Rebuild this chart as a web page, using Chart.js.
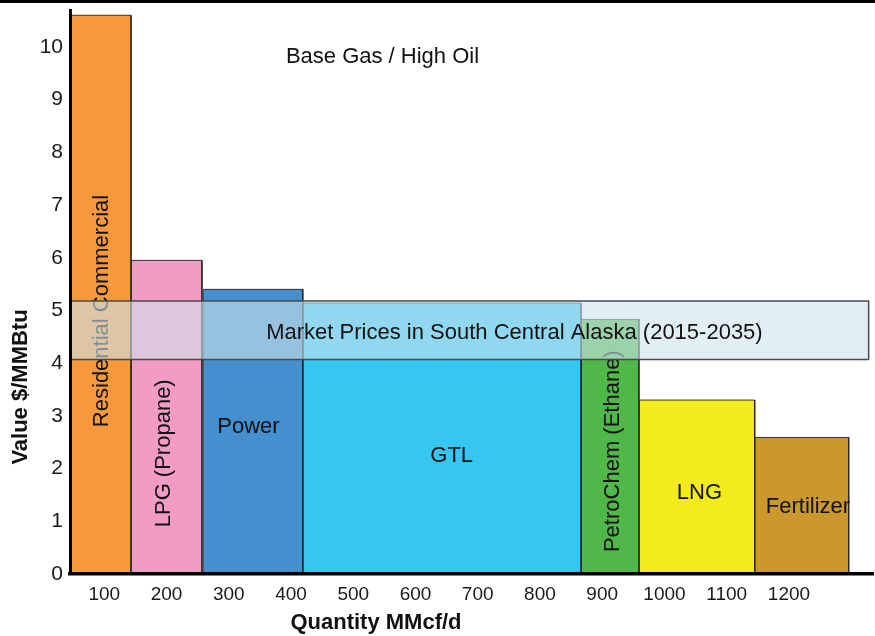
<!DOCTYPE html>
<html>
<head>
<meta charset="utf-8">
<title>Base Gas / High Oil</title>
<script src="https://cdn.jsdelivr.net/npm/chart.js@4.4.1/dist/chart.umd.min.js"></script>
<style>
  html, body { margin: 0; padding: 0; background: #ffffff; }
  #wrap { position: relative; width: 875px; height: 636px; }
</style>
</head>
<body>
<div id="wrap"><canvas id="chart" width="875" height="636"></canvas></div>
<script>
// Gas demand sectors: each block spans a quantity range (MMcf/d) at a netback value ($/MMBtu)
const sectors    = ['Residential Commercial', 'LPG (Propane)', 'Power', 'GTL', 'PetroChem (Ethane)', 'LNG', 'Fertilizer'];
const qtyStart   = [45, 143, 259, 419, 866, 959, 1145];
const qtyEnd     = [143, 257, 419, 866, 959, 1145, 1296];
const values     = [10.6, 5.95, 5.4, 5.14, 4.83, 3.3, 2.59];

// Market price band for South Central Alaska
const marketLabel = 'Market Prices in South Central Alaska (2015-2035)';
const marketLow   = 4.07;
const marketHigh  = 5.18;
const marketQty   = [47, 1328];

const chartTitle = 'Base Gas / High Oil';
const xTitle = 'Quantity MMcf/d';
const yTitle = 'Value $/MMBtu';
const xTicks = [100, 200, 300, 400, 500, 600, 700, 800, 900, 1000, 1100, 1200];
const yTicks = [0, 1, 2, 3, 4, 5, 6, 7, 8, 9, 10];

// Styling
const sectorColors = ['#F7993A', '#F29BC4', '#4490CE', '#36C6F2', '#4FB848', '#F3EB1B', '#CB982D'];
const FONT = '"Liberation Sans", Arial, Helvetica, sans-serif';
const TEXT = '#111111';

// Where each sector name sits (in axis units) and whether it runs vertically
const sectorLabelPos = [
  { x: 95.6,   y: 4.99, vertical: true },
  { x: 196,    y: 2.29, vertical: true },
  { x: 331.7,  y: 2.79, vertical: false },
  { x: 658.2,  y: 2.24, vertical: false },
  { x: 917.3,  y: 2.33, vertical: true },
  { x: 1056.2, y: 1.54, vertical: false },
  { x: 1230.5, y: 1.28, vertical: false }
];
const chartTitlePos  = { x: 547, y: 9.81 };
const marketLabelPos = { x: 759, y: 4.57 };

// Band outline is split: sides + top as one path, bottom edge as its own line
const bandBottom = {
  data: [{ x: marketQty[0], y: marketLow }, { x: marketQty[1], y: marketLow }],
  borderColor: '#4a4a4a', borderWidth: 1.5, pointRadius: 0, fill: false
};
const band = {
  data: [
    { x: marketQty[0], y: marketLow }, { x: marketQty[0], y: marketHigh },
    { x: marketQty[1], y: marketHigh }, { x: marketQty[1], y: marketLow }
  ],
  borderColor: '#4a4a4a', borderWidth: 1.5, pointRadius: 0,
  backgroundColor: 'rgba(205,228,236,0.6)',
  fill: { value: marketLow }
};

// One closed block per sector, filled down to zero
const blocks = sectors.map((name, i) => ({
  label: name,
  data: [
    { x: qtyStart[i], y: 0 }, { x: qtyStart[i], y: values[i] },
    { x: qtyEnd[i], y: values[i] }, { x: qtyEnd[i], y: 0 }
  ],
  backgroundColor: sectorColors[i],
  borderColor: 'rgba(35,35,35,0.9)',
  borderWidth: 1,
  pointRadius: 0,
  fill: 'origin'
}));

// Datasets are painted from the last index to the first, so the band goes on top
const datasets = [bandBottom, band, ...blocks];
const LAST_BLOCK_INDEX = 2;

function drawText(ctx, text, px, py, font, vertical) {
  ctx.save();
  ctx.font = font;
  ctx.fillStyle = TEXT;
  ctx.textAlign = 'center';
  ctx.textBaseline = 'middle';
  ctx.translate(px, py);
  if (vertical) ctx.rotate(-Math.PI / 2);
  ctx.fillText(text, 0, 0);
  ctx.restore();
}

const annotations = {
  id: 'annotations',
  beforeDraw(chart) {
    const ctx = chart.ctx;
    ctx.save();
    ctx.fillStyle = '#ffffff';
    ctx.fillRect(0, 0, chart.width, chart.height);
    ctx.restore();
  },
  afterDatasetDraw(chart, args) {
    // sector names go beneath the translucent price band
    if (args.index !== LAST_BLOCK_INDEX) return;
    const { x, y } = chart.scales;
    sectors.forEach((name, i) => {
      const p = sectorLabelPos[i];
      drawText(chart.ctx, name, x.getPixelForValue(p.x), y.getPixelForValue(p.y), '22px ' + FONT, p.vertical);
    });
  },
  afterDatasetsDraw(chart) {
    const ctx = chart.ctx;
    const { x, y } = chart.scales;
    drawText(ctx, marketLabel, x.getPixelForValue(marketLabelPos.x), y.getPixelForValue(marketLabelPos.y), '22px ' + FONT, false);
    drawText(ctx, chartTitle, x.getPixelForValue(chartTitlePos.x), y.getPixelForValue(chartTitlePos.y), '22px ' + FONT, false);
  },
  afterDraw(chart) {
    const ctx = chart.ctx;
    // axis titles
    drawText(ctx, yTitle, 21, 387, 'bold 22px ' + FONT, true);
    drawText(ctx, xTitle, 376, 623, 'bold 22px ' + FONT, false);
    // rule across the top edge
    ctx.save();
    ctx.fillStyle = '#000000';
    ctx.fillRect(0, 0, chart.width, 3);
    ctx.restore();
  }
};

new Chart(document.getElementById('chart'), {
  type: 'line',
  data: { datasets },
  plugins: [annotations],
  options: {
    responsive: false,
    animation: false,
    events: [],
    elements: { line: { tension: 0 } },
    layout: { autoPadding: false, padding: { top: 10, right: 2, bottom: 0, left: 0 } },
    plugins: {
      legend: { display: false },
      tooltip: { enabled: false },
      title: { display: false },
      filler: { propagate: false }
    },
    scales: {
      x: {
        type: 'linear',
        min: 45,
        max: 1335,
        grid: { display: false, drawTicks: false },
        border: { display: true, color: '#000000', width: 3.5, z: 1 },
        afterBuildTicks(scale) { scale.ticks = xTicks.map(v => ({ value: v })); },
        afterFit(scale) {
          scale.height = 62;
          scale.paddingLeft = 0; scale.paddingRight = 0;
        },
        ticks: {
          autoSkip: false,
          maxRotation: 0,
          padding: 9,
          color: '#1a1a1a',
          font: { family: FONT, size: 19 },
          callback: v => String(v)
        }
      },
      y: {
        type: 'linear',
        min: 0,
        max: 10.7,
        grid: { display: false, drawTicks: false },
        border: { display: true, color: '#000000', width: 3, z: 1 },
        afterBuildTicks(scale) { scale.ticks = yTicks.map(v => ({ value: v })); },
        afterFit(scale) {
          scale.width = 70;
          scale.paddingTop = 0; scale.paddingBottom = 0;
        },
        ticks: {
          autoSkip: false,
          padding: 7,
          color: '#1a1a1a',
          font: { family: FONT, size: 21 },
          callback: v => String(v)
        }
      }
    }
  }
});
</script>
</body>
</html>
